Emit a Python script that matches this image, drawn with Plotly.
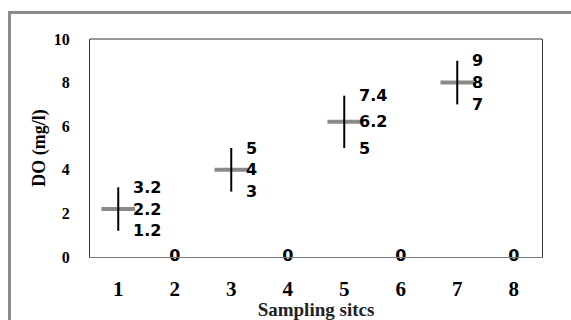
import plotly.graph_objects as go

# ---- data ----
site_ticks = [1, 2, 3, 4, 5, 6, 7, 8]
tick_labels = ["1", "2", "3", "4", "5", "6", "7", "8"]
measured_sites = [1, 3, 5, 7]
do_high = [3.2, 5, 7.4, 9]
do_mid = [2.2, 4, 6.2, 8]
do_low = [1.2, 3, 5, 7]
zero_sites = [2, 4, 6, 8]
zero_vals = [0, 0, 0, 0]

x_title = "Sampling sitcs"
y_title = "DO (mg/l)"

W, H = 571, 320
L, R, T, B = 90, 29, 39, 63
pw, ph = W - L - R, H - T - B

fig = go.Figure()

# gray mid ticks
fig.add_trace(go.Scatter(
    x=measured_sites, y=do_mid, mode="markers",
    marker=dict(symbol="line-ew", size=24, line=dict(width=4, color="#8a8a8a"), color="#8a8a8a"),
    hoverinfo="skip", showlegend=False))

# black high-low lines
fig.add_trace(go.Scatter(
    x=measured_sites, y=do_mid, mode="markers",
    marker=dict(size=1, opacity=0),
    error_y=dict(type="data", symmetric=False,
                 array=[h - m for h, m in zip(do_high, do_mid)],
                 arrayminus=[m - l for m, l in zip(do_mid, do_low)],
                 width=0, thickness=2, color="black"),
    hoverinfo="skip", showlegend=False))

lab_font = dict(family="DejaVu Sans", size=16, color="black", weight="bold")

# zero labels
fig.add_trace(go.Scatter(
    x=zero_sites, y=zero_vals, mode="text",
    text=[f"{v:g}" for v in zero_vals], textposition="middle center",
    textfont=lab_font,
    cliponaxis=False, hoverinfo="skip", showlegend=False))

for s, h, m, l in zip(measured_sites, do_high, do_mid, do_low):
    for v in (h, m, l):
        fig.add_annotation(x=s, y=v, text=f"{v:g}", showarrow=False,
                           xanchor="left", yanchor="middle", xshift=13,
                           font=lab_font)

# outer frame
fig.add_shape(type="rect", xref="paper", yref="paper",
              x0=(9.5 - L) / pw, x1=(W + 5 - L) / pw,
              y0=(T + ph - (H + 5)) / ph, y1=(T + ph - 12.5) / ph,
              line=dict(color="#8c8c8c", width=3), layer="below")
# top border of plot area
fig.add_shape(type="line", xref="paper", yref="paper", x0=0, x1=1, y0=1, y1=1,
              line=dict(color="#333", width=1))

fig.update_layout(
    width=W, height=H,
    margin=dict(l=L, r=R, t=T, b=B, autoexpand=False),
    paper_bgcolor="white", plot_bgcolor="white",
    showlegend=False,
    font=dict(family="Liberation Serif", color="black"),
)
fig.update_xaxes(
    range=[0.5, 8.5], tickvals=site_ticks, ticktext=tick_labels, automargin=False,
    tickfont=dict(family="Liberation Serif", size=21, color="black", weight="bold"),
    showgrid=False, zeroline=False, showline=True, linecolor="#7a7a7a", linewidth=1,
    ticks="", ticklabelstandoff=13,
    title=dict(text=f"<b>{x_title}</b>", font=dict(family="Liberation Serif", size=19, color="#222"), standoff=0),
)
fig.update_yaxes(
    range=[0, 10], dtick=2, automargin=False,
    tickfont=dict(family="Liberation Serif", size=16, color="black", weight="bold"),
    showgrid=False, zeroline=False, showline=True, mirror=True, linecolor="#333", linewidth=1,
    ticks="", ticklabelstandoff=16,
    title=dict(text=f"<b>{y_title}</b>", font=dict(family="Liberation Serif", size=18, color="black"), standoff=3),
)

fig.write_html("out.html", config={"displayModeBar": False},
               post_script="document.body.style.margin='0';")
